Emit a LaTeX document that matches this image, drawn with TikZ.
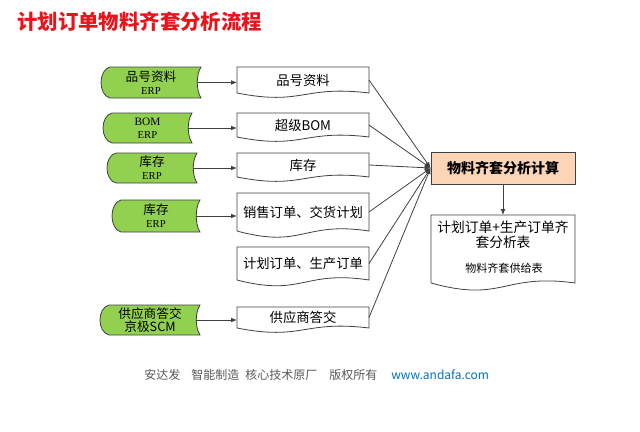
\documentclass[tikz,border=0pt]{standalone}
\usepackage{fontspec}
\setmainfont{Noto Sans CJK SC}
\newfontfamily\latinser{Liberation Serif}
\usetikzlibrary{arrows.meta,calc}
\pgfdeclarelayer{bg}
\pgfsetlayers{bg,main}
\definecolor{titlered}{HTML}{E8141C}
\definecolor{greenfill}{HTML}{92D050}
\definecolor{orangefill}{HTML}{FBD5B5}
\definecolor{linegray}{HTML}{404040}
\definecolor{footgray}{HTML}{595959}
\definecolor{footblue}{HTML}{0070C0}
\newcommand\greenshape[1]{%
  \begin{pgfonlayer}{bg}
  \draw[greenline] ([xshift=6.75pt]#1.north west) -- (#1.north east)
    .. controls +(-5,8) and +(-5,-8) .. (#1.south east)
    -- ([xshift=6.75pt]#1.south west)
    .. controls +(-12,-3) and +(-12,3) .. ([xshift=6.75pt]#1.north west) -- cycle;
  \end{pgfonlayer}}
\newcommand\docshape[3]{%
  \draw[docline] (#1.south west) -- (#1.north west) -- (#1.north east) -- (#1.south east)
    .. controls ($(#1.south)+(0,-#2)$) and ($(#1.south)+(0,#3)$) .. (#1.south west);}
\begin{document}
\begin{tikzpicture}[x=0.75pt,y=-0.75pt,
  greenline/.style={draw=linegray,line width=0.6pt,fill=greenfill},
  docline/.style={draw=linegray,line width=0.6pt},
  gbox/.style={inner sep=0pt,outer sep=0pt,align=center,font=\fontsize{9.5}{10}\selectfont},
  dbox/.style={inner sep=0pt,outer sep=0pt,align=center,font=\fontsize{10}{12}\selectfont},
  obox/.style={draw=linegray,line width=0.6pt,fill=orangefill,inner sep=0pt,font=\bfseries\fontsize{10.5}{12}\selectfont},
  arr/.style={draw=linegray,line width=0.6pt,-{Latex[length=4.5pt,width=3.6pt]}},
  foot/.style={anchor=west,inner sep=0pt,text=footgray,font=\fontsize{9}{11}\selectfont}]
\useasboundingbox (0,0) rectangle (640,432);

% title
\node[anchor=west,inner sep=0pt,text=titlered,font=\bfseries\fontsize{15.3}{18}\selectfont] (title) at (17,22) {计划订单物料齐套分析流程};

% green sources
\node[gbox,minimum width=100*0.75pt,minimum height=31*0.75pt] (G1) at (151,82.5) {品号资料\\{\latinser\fontsize{8}{10}\selectfont ERP}};
\node[gbox,minimum width=89*0.75pt,minimum height=30*0.75pt] (G2) at (147.5,128) {{\latinser\fontsize{8.5}{10}\selectfont BOM}\\{\latinser\fontsize{8}{10}\selectfont ERP}};
\node[gbox,minimum width=90*0.75pt,minimum height=30*0.75pt] (G3) at (152,168) {库存\\{\latinser\fontsize{8}{10}\selectfont ERP}};
\node[gbox,minimum width=88*0.75pt,minimum height=32*0.75pt] (G4) at (156,216) {库存\\{\latinser\fontsize{8}{10}\selectfont ERP}};
\node[gbox,minimum width=100*0.75pt,minimum height=30*0.75pt] (G5) at (150,320) {供应商答交\\京极SCM};
\greenshape{G1}\greenshape{G2}\greenshape{G3}\greenshape{G4}\greenshape{G5}

% documents
\node[dbox,minimum width=132*0.75pt,minimum height=26*0.75pt] (D1) at (303,80) {品号资料};
\node[dbox,minimum width=132*0.75pt,minimum height=24*0.75pt] (D2) at (303,125) {超级BOM};
\node[dbox,minimum width=132*0.75pt,minimum height=24*0.75pt] (D3) at (303,165) {库存};
\node[dbox,minimum width=132*0.75pt,minimum height=38*0.75pt] (D4) at (303,212) {销售订单、交货计划};
\node[dbox,minimum width=132*0.75pt,minimum height=33*0.75pt] (D5) at (303,263.5) {计划订单、生产订单};
\node[dbox,minimum width=132*0.75pt,minimum height=21*0.75pt] (D6) at (303,317.5) {供应商答交};
\docshape{D1}{8}{13}
\docshape{D2}{8}{13}
\docshape{D3}{8}{13}
\docshape{D4}{10}{18}
\docshape{D5}{10}{17}
\docshape{D6}{8}{13}

% central process
\node[obox,minimum width=144*0.75pt,minimum height=32*0.75pt] (O) at (503,168) {物料齐套分析计算};

% result document
\node[inner sep=0pt,outer sep=0pt,minimum width=144*0.75pt,minimum height=68*0.75pt] (R) at (503,249) {};
\docshape{R}{10}{20}
\node[inner sep=0pt,align=center,font=\fontsize{10.3}{11.3}\selectfont] (R1) at (503,234.5) {计划订单+生产订单齐\\套分析表};
\node[inner sep=0pt,font=\fontsize{8.3}{10}\selectfont] (R2) at (504,268) {物料齐套供给表};

% connectors
\foreach \g/\d in {G1/D1,G2/D2,G3/D3,G4/D4,G5/D6}
  \draw[arr] ([xshift=-2.8pt]\g.east) -- (\g.east -| \d.west);
\foreach \d in {D1,D2,D3,D4,D5,D6}
  \draw[arr] (\d.east) -- (O.west);
\draw[arr] (O.south) -- (R.north);

% footer
\node[foot] (f1) at (144,375) {安达发};
\node[foot] (f2) at (191,375) {智能制造};
\node[foot] (f3) at (245,375) {核心技术原厂};
\node[foot] (f4) at (329,375) {版权所有};
\node[foot,text=footblue] (f5) at (391,375) {www.andafa.com};
\end{tikzpicture}
\end{document}
